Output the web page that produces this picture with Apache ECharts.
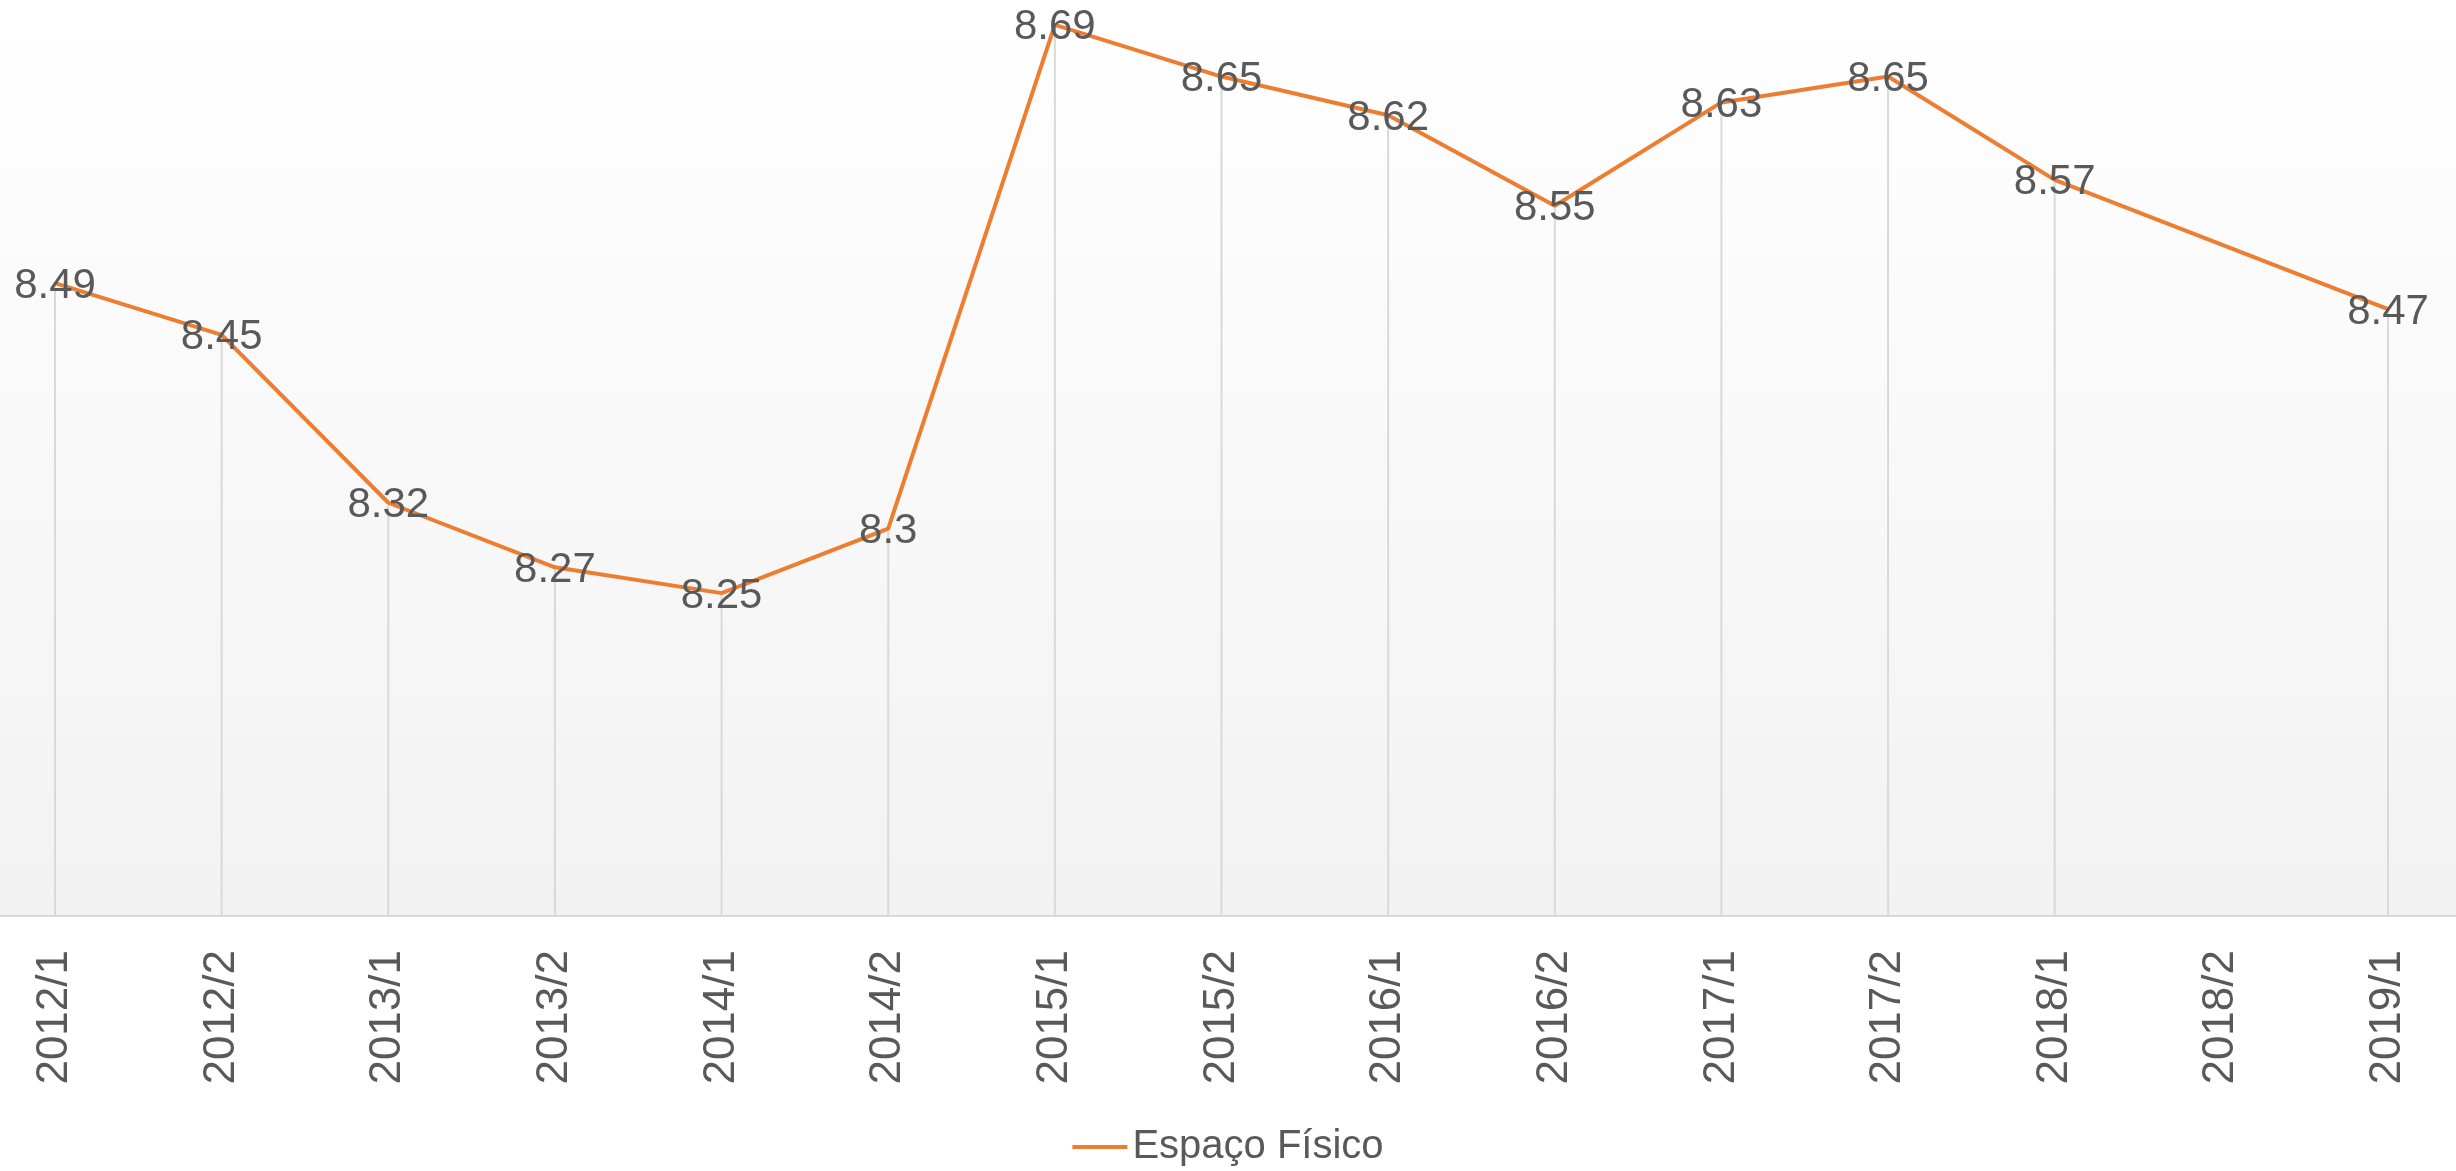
<!DOCTYPE html>
<html lang="pt">
<head>
    <meta charset="UTF-8">
    <title>Espaço Físico</title>
    <script src="https://cdn.jsdelivr.net/npm/echarts@6/dist/echarts.min.js"></script>
    <style>
        html, body { margin: 0; padding: 0; background: #fff; }
    </style>
</head>
<body>
    <div id="main" style="width:2456px;height:1171px;"></div>
    <script>
        // dados
        var semestres = ['2012/1', '2012/2', '2013/1', '2013/2', '2014/1', '2014/2', '2015/1', '2015/2',
            '2016/1', '2016/2', '2017/1', '2017/2', '2018/1', '2018/2', '2019/1'];
        var espacoFisico = [8.49, 8.45, 8.32, 8.27, 8.25, 8.3, 8.69, 8.65, 8.62, 8.55, 8.63, 8.65, 8.57, null, 8.47];
        var nomeSerie = 'Espaço Físico';

        var fonte = '"Liberation Sans", Arial, sans-serif';

        var myChart = echarts.init(document.getElementById('main'));
        myChart.setOption({
            animation: false,
            grid: [
                // área de plotagem inteira (fundo em degradê + linha do eixo)
                {
                    left: 0, right: 0, top: 12, bottom: 255,
                    show: true,
                    borderWidth: 0,
                    backgroundColor: new echarts.graphic.LinearGradient(0, 0, 0, 1, [
                        { offset: 0, color: '#ffffff' },
                        { offset: 1, color: '#f2f2f2' }
                    ])
                },
                // pontos da série
                { left: 55, right: 68, top: 12, bottom: 255 }
            ],
            legend: {
                data: [nomeSerie],
                top: 1122,
                left: 'center',
                icon: 'rect',
                itemWidth: 55,
                itemHeight: 4,
                textStyle: { fontFamily: fonte, fontSize: 40, color: '#595959' }
            },
            xAxis: [
                {
                    gridIndex: 0,
                    type: 'category',
                    data: semestres,
                    axisLine: { lineStyle: { color: '#d9d9d9', width: 2 } },
                    axisTick: { show: false },
                    axisLabel: { show: false }
                },
                {
                    gridIndex: 1,
                    type: 'category',
                    data: semestres,
                    boundaryGap: false,
                    axisLine: { show: false },
                    axisTick: { show: false },
                    axisLabel: {
                        rotate: 90,
                        margin: 34,
                        fontFamily: fonte,
                        fontSize: 44,
                        color: '#595959'
                    }
                }
            ],
            yAxis: [
                { gridIndex: 0, type: 'value', show: false, splitLine: { show: false } },
                { gridIndex: 1, type: 'value', min: 8, max: 8.7, show: false, splitLine: { show: false } }
            ],
            series: [
                {
                    // linhas de projeção até o eixo
                    type: 'bar',
                    xAxisIndex: 1,
                    yAxisIndex: 1,
                    data: espacoFisico,
                    barWidth: 2,
                    silent: true,
                    itemStyle: { color: '#d9d9d9' },
                    z: 1
                },
                {
                    name: nomeSerie,
                    type: 'line',
                    xAxisIndex: 1,
                    yAxisIndex: 1,
                    data: espacoFisico,
                    connectNulls: true,
                    symbol: 'circle',
                    symbolSize: 0,
                    color: '#ed7d31',
                    lineStyle: { width: 4, color: '#ed7d31' },
                    label: {
                        show: true,
                        position: 'inside',
                        offset: [0, 3],
                        fontFamily: fonte,
                        fontSize: 42,
                        color: '#595959'
                    },
                    z: 3
                }
            ]
        });
    </script>
</body>
</html>
